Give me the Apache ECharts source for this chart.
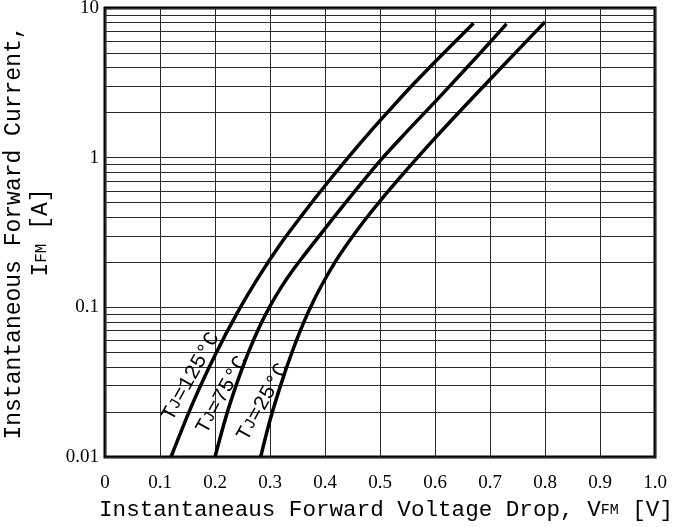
<!DOCTYPE html>
<html><head><meta charset="utf-8">
<script src="https://cdn.jsdelivr.net/npm/echarts@6/dist/echarts.min.js"></script>
<style>html,body{margin:0;padding:0;background:#fff}#c{width:673px;height:527px}</style>
</head><body><div id="c"></div>
<script>
// ---- data ----
const xTickLabels = ['0','0.1','0.2','0.3','0.4','0.5','0.6','0.7','0.8','0.9','1.0'];
const yTickLabels = ['0.01','0.1','1','10'];
const minorGridValues = [0.02,0.03,0.04,0.05,0.06,0.07,0.08,0.09,
                         0.2,0.3,0.4,0.5,0.6,0.7,0.8,0.9,
                         2,3,4,5,6,7,8,9];

const v125 = [0.120,0.160,0.200,0.240,0.280,0.320,0.360,0.400,0.440,0.480,0.520,0.560,0.600,0.635,0.670];
const i125 = [0.0100,0.0231,0.0479,0.0912,0.161,0.268,0.421,0.649,0.982,1.46,2.13,3.08,4.37,5.88,7.92];

const v75 = [0.200,0.220,0.240,0.260,0.280,0.300,0.320,0.340,0.360,0.400,0.450,0.500,0.550,0.600,0.650,0.700,0.730];
const i75 = [0.0100,0.0186,0.0313,0.0492,0.0731,0.102,0.1355,0.174,0.218,0.336,0.570,0.952,1.51,2.36,3.72,5.90,7.83];

const v25 = [0.283,0.300,0.320,0.340,0.360,0.380,0.400,0.420,0.440,0.470,0.500,0.550,0.600,0.650,0.700,0.750,0.800];
const i25 = [0.0100,0.0176,0.0307,0.0501,0.0773,0.112,0.154,0.205,0.264,0.373,0.513,0.841,1.35,2.13,3.33,5.19,8.08];

const curveNames = ['125','75','25'];
const curveLabelText = ['T{j|J}=125°C','T{j|J}=75°C','T{j|J}=25°C'];
const curveLabelV = [0.156,0.213,0.287];
const curveLabelI = [0.0345,0.026,0.0233];

// ---- chart ----
const zip = (a,b) => a.map((v,k)=>[v,b[k]]);
const curves = [zip(v125,i125), zip(v75,i75), zip(v25,i25)];
const monoFont = 'Liberation Mono';
const serifFont = 'Liberation Serif';

const chart = echarts.init(document.getElementById('c'), null, {renderer:'canvas'});

const series = curves.map((d,k)=>({
  name: curveNames[k],
  type: 'line',
  data: d,
  smooth: 0.35,
  symbol: 'none',
  z: 3,
  lineStyle: {color:'#000', width:3.5},
  markPoint: {
    silent: true,
    symbol: 'rect', symbolSize: 1,
    itemStyle: {color:'rgba(0,0,0,0)'},
    data: [{
      coord: [curveLabelV[k], curveLabelI[k]],
      label: {
        show: true, position: 'inside', rotate: 61,
        formatter: curveLabelText[k],
        fontFamily: monoFont, fontSize: 21, color: '#000',
        rich: { j: {fontFamily: monoFont, fontSize: 16, color:'#000'} }
      }
    }]
  }
}));

series.push({
  type: 'line',
  data: [],
  silent: true,
  markLine: {
    silent: true,
    z: 1,
    animation: false,
    symbol: ['none','none'],
    label: {show:false},
    lineStyle: {color:'#2a2a2a', width:1, type:'solid'},
    emphasis: {disabled:true},
    data: minorGridValues.map(v=>({yAxis:v}))
  }
});

chart.setOption({
  animation: false,
  backgroundColor: '#fff',
  grid: {left:105, right:18, top:8, bottom:70, containLabel:false, outerBoundsMode:'none',
         show:true, borderColor:'#000', borderWidth:3, backgroundColor:'transparent'},
  xAxis: {
    type: 'value', min: 0, max: 1, interval: 0.1,
    axisLine: {show:false},
    axisTick: {show:false},
    splitLine: {show:true, lineStyle:{color:'#2a2a2a', width:1}},
    axisLabel: {
      margin: 17, fontFamily: serifFont, fontSize: 19, color:'#000',
      formatter: v => xTickLabels[Math.round(v*10)]
    },
    name: 'Instantaneaus Forward Voltage Drop, V{s|FM} [V]',
    nameLocation: 'middle', nameGap: 42,
    nameTextStyle: {
      fontFamily: monoFont, fontSize: 22.6, color:'#000', padding: [0,0,0,12],
      rich: { s: {fontFamily: monoFont, fontSize: 15, color:'#000'} }
    }
  },
  yAxis: {
    type: 'log', logBase: 10, min: 0.01, max: 10,
    axisLine: {show:false},
    axisTick: {show:false},
    splitLine: {show:true, lineStyle:{color:'#2a2a2a', width:1}},
    minorTick: {show:false},
    axisLabel: {
      margin: 6, fontFamily: serifFont, fontSize: 19, color:'#000',
      formatter: v => yTickLabels[Math.round(Math.log10(v)) + 2]
    },
    name: 'Instantaneous Forward Current,\nI{s|FM} [A]',
    nameLocation: 'middle', nameGap: 46,
    nameTextStyle: {
      fontFamily: monoFont, fontSize: 23, color:'#000', lineHeight: 27,
      rich: { s: {fontFamily: monoFont, fontSize: 16, color:'#000'} }
    }
  },
  series: series
});
</script>
</body></html>
